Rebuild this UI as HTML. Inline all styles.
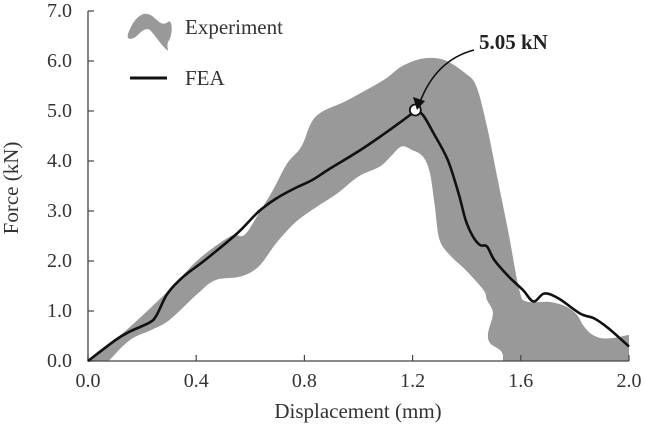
<!DOCTYPE html>
<html><head><meta charset="utf-8"><style>
body{margin:0;background:#fff}
svg{display:block;font-family:"Liberation Serif",serif}
</style></head><body>
<svg id="c" width="645" height="429" viewBox="0 0 645 429"></svg>
<script>
const xTicks=["0.0","0.4","0.8","1.2","1.6","2.0"];
const yTicks=["0.0","1.0","2.0","3.0","4.0","5.0","6.0","7.0"];
const feaX=[0,0.102,0.155,0.228,0.254,0.294,0.353,0.433,0.551,0.631,0.696,0.763,0.829,0.895,1.027,1.198,1.207,1.238,1.278,1.330,1.370,1.396,1.423,1.449,1.475,1.502,1.555,1.608,1.647,1.687,1.740,1.819,1.872,1.925,2.0];
const feaY=[0,0.42,0.59,0.77,0.92,1.35,1.69,2.02,2.55,2.99,3.25,3.45,3.62,3.85,4.29,4.95,5.02,4.92,4.55,4.02,3.35,2.82,2.49,2.32,2.29,2.02,1.69,1.42,1.19,1.35,1.25,0.95,0.85,0.65,0.29];
const bandUpperX=[0,0.142,0.30,0.406,0.525,0.578,0.631,0.684,0.736,0.789,0.842,0.961,1.093,1.159,1.238,1.317,1.396,1.436,1.475,1.515,1.555,1.594,1.621,1.708,1.771,1.808,1.830,1.856,1.893,1.941,1.996];
const bandUpperY=[0,0.62,1.42,2.02,2.49,2.52,2.95,3.42,3.95,4.29,4.89,5.22,5.62,5.89,6.05,6.02,5.75,5.49,4.69,3.62,2.55,1.43,1.19,1.18,1.08,0.92,0.72,0.56,0.46,0.46,0.52];
const bandLowerX=[1.534,1.523,1.486,1.479,1.497,1.475,1.462,1.396,1.343,1.300,1.282,1.264,1.238,1.198,1.159,1.119,1.079,1.000,0.921,0.828,0.762,0.695,0.631,0.565,0.472,0.406,0.301,0.234,0.155,0.076];
const bandLowerY=[0.12,0.22,0.36,0.56,0.96,1.22,1.42,1.82,2.09,2.42,3.10,3.76,4.09,4.22,4.29,4.09,3.89,3.69,3.35,3.02,2.75,2.35,1.89,1.69,1.62,1.35,0.82,0.62,0.42,0];
const peakX=1.21, peakY=5.02;

const X0=88,X1=629,Y0=361,Y1=11;
const sx=v=>X0+(v/2)*(X1-X0);
const sy=v=>Y0-(v/7)*(Y0-Y1);
const NS="http://www.w3.org/2000/svg";
const svg=document.getElementById('c');
function mk(t,a){const e=document.createElementNS(NS,t);for(const k in a)e.setAttribute(k,a[k]);svg.appendChild(e);return e;}
function smooth(p){let d="M"+p[0][0]+","+p[0][1];for(let i=0;i<p.length-1;i++){const a=p[Math.max(0,i-1)],b=p[i],c=p[i+1],e=p[Math.min(p.length-1,i+2)];d+=` C${b[0]+(c[0]-a[0])/6},${b[1]+(c[1]-a[1])/6} ${c[0]-(e[0]-b[0])/6},${c[1]-(e[1]-b[1])/6} ${c[0]},${c[1]}`;}return d;}
const up=bandUpperX.map((x,i)=>[sx(x),sy(bandUpperY[i])]);
const lo=bandLowerX.map((x,i)=>[sx(x),sy(bandLowerY[i])]);
let bd=smooth(up)+` L${sx(2)},${sy(bandUpperY[bandUpperY.length-1])} L${sx(2)},${sy(0)} L${sx(bandLowerX[0])},${sy(0)} `+smooth(lo).replace(/^M/,"L")+"Z";
const band=mk('path',{d:bd,fill:'#999'});


const ax=mk('path',{d:`M${X0},${Y1} V${Y0} H${X1}`,stroke:'#444',fill:'none','stroke-width':1.3});


xTicks.forEach((t,i)=>{const x=sx(i*0.4);
 const l=mk('line',{x1:x,x2:x,y1:Y0,y2:Y0-6,stroke:'#444','stroke-width':1.2});
 
 
 const tx=mk('text',{x:x,y:387,'font-size':20,'text-anchor':'middle',fill:'#333'});tx.textContent=t;
 
 });
yTicks.forEach((t,i)=>{const y=sy(i);
 const l=mk('line',{x1:X0,x2:X0+6,y1:y,y2:y,stroke:'#444','stroke-width':1.2});
 
 
 const tx=mk('text',{x:72,y:y+6,'font-size':20,'text-anchor':'end',fill:'#333'});tx.textContent=t;
 
 });
const xt=mk('text',{x:358,y:418,'font-size':21,'text-anchor':'middle',fill:'#333'});xt.textContent="Displacement (mm)";


const yt=mk('text',{x:0,y:0,'font-size':21,'text-anchor':'middle',fill:'#333',transform:'translate(18,188) rotate(-90)'});yt.textContent="Force (kN)";


const fp=feaX.map((x,i)=>[sx(x),sy(feaY[i])]);
const fl=mk('path',{d:smooth(fp),stroke:'#111',fill:'none','stroke-width':2.6,'stroke-linejoin':'round'});


const pk=mk('circle',{cx:sx(peakX),cy:sy(peakY),r:5.5,fill:'#fff',stroke:'#111','stroke-width':1.8});


const ar=mk('path',{d:`M474,50 Q436,60 420,102`,stroke:'#111',fill:'none','stroke-width':1.6});


const ah=mk('path',{d:`M417,110 L413,97 L425,101 Z`,fill:'#111'});


const an=mk('text',{x:479,y:49,'font-size':21,'font-weight':'bold',fill:'#222'});an.textContent="5.05 kN";


const lb=mk('path',{d:'M128,34 C132,22 140,12 148,14 C156,16 160,28 168,22 C172,18 174,34 168,42 C166,48 170,52 167,50 C160,44 156,36 150,30 C144,26 138,36 134,38 C128,40 127,38 128,34 Z',fill:'#999'});


const le=mk('text',{x:185,y:34,'font-size':21,fill:'#333'});le.textContent="Experiment";


const ll=mk('line',{x1:130,x2:167,y1:78,y2:78,stroke:'#111','stroke-width':3});


const lf=mk('text',{x:185,y:85,'font-size':21,fill:'#333'});lf.textContent="FEA";


</script>
</body></html>
